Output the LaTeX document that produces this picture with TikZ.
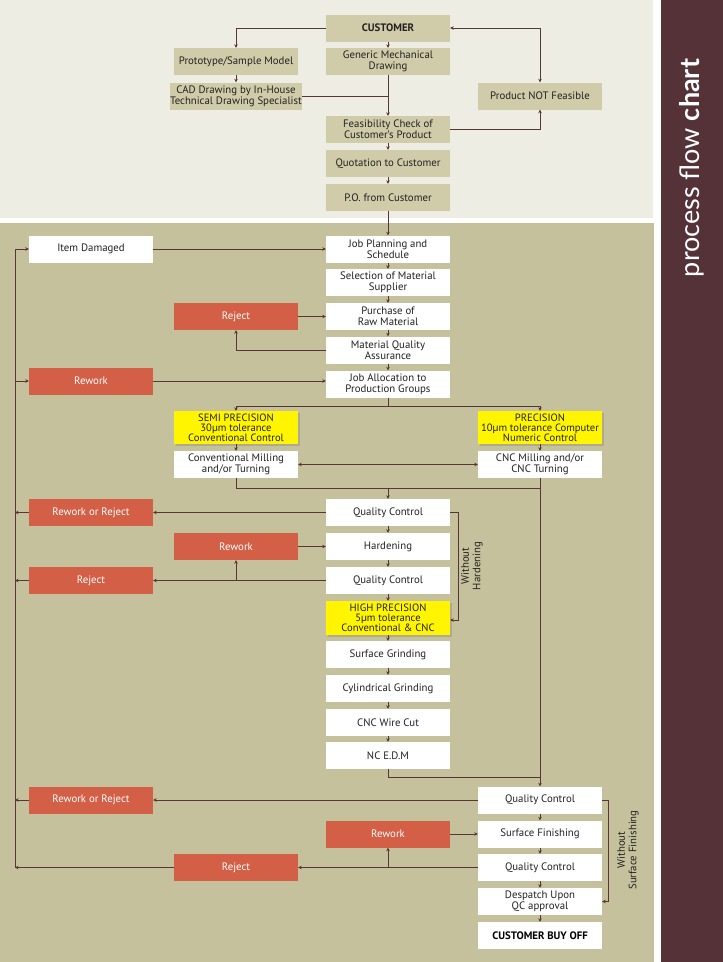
\documentclass[tikz,border=0pt]{standalone}
\usepackage{fontspec}
\setmainfont{PT Sans}
\newfontfamily\sidefont{Lato}
\usetikzlibrary{arrows.meta,shadows}
\definecolor{topbg}{HTML}{EEEDE4}
\definecolor{olivebg}{HTML}{C5C19D}
\definecolor{tanbox}{HTML}{D0CBA8}
\definecolor{redbox}{HTML}{D35F46}
\definecolor{yelbox}{HTML}{FFF500}
\definecolor{linec}{HTML}{5A3535}
\definecolor{sidebg}{HTML}{543238}
\definecolor{txt}{HTML}{222222}
\tikzset{
  base/.style={minimum width=124pt, minimum height=27pt, inner sep=0pt, align=center,
    font=\fontsize{10.8}{11.2}\selectfont, text=txt},
  tanb/.style={base, fill=tanbox},
  whiteb/.style={base, fill=white},
  redb/.style={base, fill=redbox, text=white},
  yelb/.style={base, fill=yelbox, minimum height=33pt, font=\fontsize{10.6}{9.8}\selectfont,
    drop shadow={opacity=0.35, shadow xshift=2pt, shadow yshift=-2pt}},
  conn/.style={draw=linec, line width=1pt},
  arr/.style={conn, -{Stealth[length=3.5pt,width=3.5pt]}},
  darr/.style={conn, {Stealth[length=3.5pt,width=3.5pt]}-{Stealth[length=3.5pt,width=3.5pt]}},
  sidelabel/.style={rotate=90, align=center, font=\fontsize{10.8}{11.5}\selectfont, text=txt}
}
\begin{document}
\begin{tikzpicture}[x=1pt,y=-1pt]
\useasboundingbox (0,0) rectangle (723,962);
\fill[white] (0,0) rectangle (723,962);
\fill[topbg] (0,0) rectangle (653,218);
\fill[olivebg] (0,223) rectangle (654,962);
\fill[sidebg] (661,0) rectangle (723,962);
\node[rotate=90, text=white, font=\sidefont\fontsize{27}{27}\selectfont] (title) at (692,168) {process flow \textbf{chart}};

% top section
\node[tanb, font=\fontsize{10.8}{11.2}\selectfont\bfseries] (cust) at (388,28) {CUSTOMER};
\node[tanb] (generic) at (388,61.5) {Generic Mechanical\\Drawing};
\node[tanb] (proto) at (236,61.5) {Prototype/Sample Model};
\node[tanb] (cad) at (236,96) {CAD Drawing by In-House\\Technical Drawing Specialist};
\node[tanb] (notf) at (540,96) {Product NOT Feasible};
\node[tanb] (feas) at (388,129.5) {Feasibility Check of\\Customer's Product};
\node[tanb] (quote) at (388,163.5) {Quotation to Customer};
\node[tanb] (po) at (388,197.5) {P.O. from Customer};

% bottom section
\node[whiteb] (jobplan) at (388,249) {Job Planning and\\Schedule};
\node[whiteb] (dmg) at (91,249) {Item Damaged};
\node[whiteb] (sel) at (388,282.5) {Selection of Material\\Supplier};
\node[whiteb] (purch) at (388,316.5) {Purchase of\\Raw Material};
\node[redb] (rej1) at (236,316.5) {Reject};
\node[whiteb] (mqa) at (388,350) {Material Quality\\Assurance};
\node[redb] (rw1) at (91,381) {Rework};
\node[whiteb] (alloc) at (388,384) {Job Allocation to\\Production Groups};

\node[yelb] (semi) at (236,427.5) {SEMI PRECISION\\30µm tolerance\\Conventional Control};
\node[yelb] (prec) at (540,427.5) {PRECISION\\10µm tolerance Computer\\Numeric Control};
\node[whiteb] (conv) at (236,464.5) {Conventional Milling\\and/or Turning};
\node[whiteb] (cnc) at (540,464.5) {CNC Milling and/or\\CNC Turning};

\node[whiteb] (qc1) at (388,512.5) {Quality Control};
\node[redb] (rwr1) at (91,512.5) {Rework or Reject};
\node[redb] (rw2) at (236,546.5) {Rework};
\node[whiteb] (hard) at (388,546.5) {Hardening};
\node[whiteb] (qc2) at (388,580.5) {Quality Control};
\node[redb] (rej2) at (91,580.5) {Reject};
\node[yelb, minimum height=34pt] (hp) at (388,618) {HIGH PRECISION\\5µm tolerance\\Conventional \& CNC};
\node[whiteb] (sg) at (388,654.5) {Surface Grinding};
\node[whiteb] (cg) at (388,688.5) {Cylindrical Grinding};
\node[whiteb] (wc) at (388,722.5) {CNC Wire Cut};
\node[whiteb] (edm) at (388,755.5) {NC E.D.M};

\node[whiteb] (qc3) at (540,800) {Quality Control};
\node[redb] (rwr2) at (91,800) {Rework or Reject};
\node[redb] (rw3) at (388,834) {Rework};
\node[whiteb] (sf) at (540,834) {Surface Finishing};
\node[redb] (rej3) at (236,867.5) {Reject};
\node[whiteb] (qc4) at (540,867.5) {Quality Control};
\node[whiteb] (desp) at (540,901.5) {Despatch Upon\\QC approval};
\node[whiteb, font=\fontsize{10.8}{11.2}\selectfont\bfseries, text=black] (buy) at (540,935.5) {CUSTOMER BUY OFF};

\node[sidelabel] (lblh) at (472,566) {Without\\Hardening};
\node[sidelabel] (lbls) at (628,850) {Without\\Surface Finishing};

% coordinates
\coordinate (lt) at (15,249);
\coordinate (lb) at (15,867.5);
\coordinate (sp) at (388,406);
\coordinate (mg) at (388,488);
\coordinate (ej) at (540,777);
\coordinate (wh) at (458,512.5);
\coordinate (ws) at (608,800);

% top connectors
\draw[arr] (cust.west) -| (proto.north);
\draw[arr] (cust.south) -- (generic.north);
\draw[arr] (proto.south) -- (cad.north);
\draw[conn] (cad.east) -- (cad.east -| generic.south);
\draw[arr] (generic.south) -- (feas.north);
\draw[arr] (feas.east) -| (notf.south);
\draw[darr] (notf.north) |- (cust.east);
\draw[arr] (feas.south) -- (quote.north);
\draw[arr] (quote.south) -- (po.north);
\draw[arr] (po.south) -- (jobplan.north);

% bottom connectors
\draw[arr] (dmg.east) -- (jobplan.west);
\draw[arr] (jobplan.south) -- (sel.north);
\draw[arr] (sel.south) -- (purch.north);
\draw[arr] (purch.south) -- (mqa.north);
\draw[arr] (mqa.south) -- (alloc.north);
\draw[arr] (rej1.east) -- (purch.west);
\draw[arr] (mqa.west) -| (rej1.south);
\draw[arr] (rw1.east) -- (rw1.east -| alloc.west);
\draw[arr] (lb) |- (dmg.west);
\draw[arr] (rw1.west -| lt) -- (rw1.west);
\draw[arr] (rwr1.west) -- (rwr1.west -| lt);
\draw[arr] (rej2.west) -- (rej2.west -| lt);
\draw[arr] (rwr2.west) -- (rwr2.west -| lt);
\draw[arr] (rej3.west) -- (lb);

\draw[conn] (alloc.south) -- (sp);
\draw[arr] (sp) -| (semi.north);
\draw[arr] (sp) -| (prec.north);
\draw[arr] (semi.south) -- (conv.north);
\draw[arr] (prec.south) -- (cnc.north);
\draw[darr] (conv.east) -- (cnc.west);
\draw[conn] (conv.south) |- (mg -| cnc.south);
\draw[arr] (mg) -- (qc1.north);
\draw[arr] (cnc.south) -- (qc3.north);

\draw[arr] (qc1.south) -- (hard.north);
\draw[arr] (hard.south) -- (qc2.north);
\draw[arr] (qc2.south) -- (hp.north);
\draw[arr] (hp.south) -- (sg.north);
\draw[arr] (sg.south) -- (cg.north);
\draw[arr] (cg.south) -- (wc.north);
\draw[arr] (wc.south) -- (edm.north);
\draw[arr] (qc1.west) -- (rwr1.east);
\draw[arr] (rw2.east) -- (hard.west);
\draw[arr] (qc2.west) -- (rej2.east);
\draw[arr] (qc2.west -| rw2.south) -- (rw2.south);
\draw[arr] (qc1.east) -- (wh) |- ([yshift=-2pt]hp.east);
\draw[conn] (edm.south) |- (ej);

\draw[arr] (qc3.south) -- (sf.north);
\draw[arr] (sf.south) -- (qc4.north);
\draw[arr] (qc4.south) -- (desp.north);
\draw[arr] (desp.south) -- (buy.north);
\draw[arr] (qc3.west) -- (rwr2.east);
\draw[arr] (rw3.east) -- (sf.west);
\draw[arr] (qc4.west) -- (rej3.east);
\draw[arr] (qc4.west -| rw3.south) -- (rw3.south);
\draw[arr] (qc3.east) -- (ws) |- (desp.east);
\end{tikzpicture}
\end{document}
